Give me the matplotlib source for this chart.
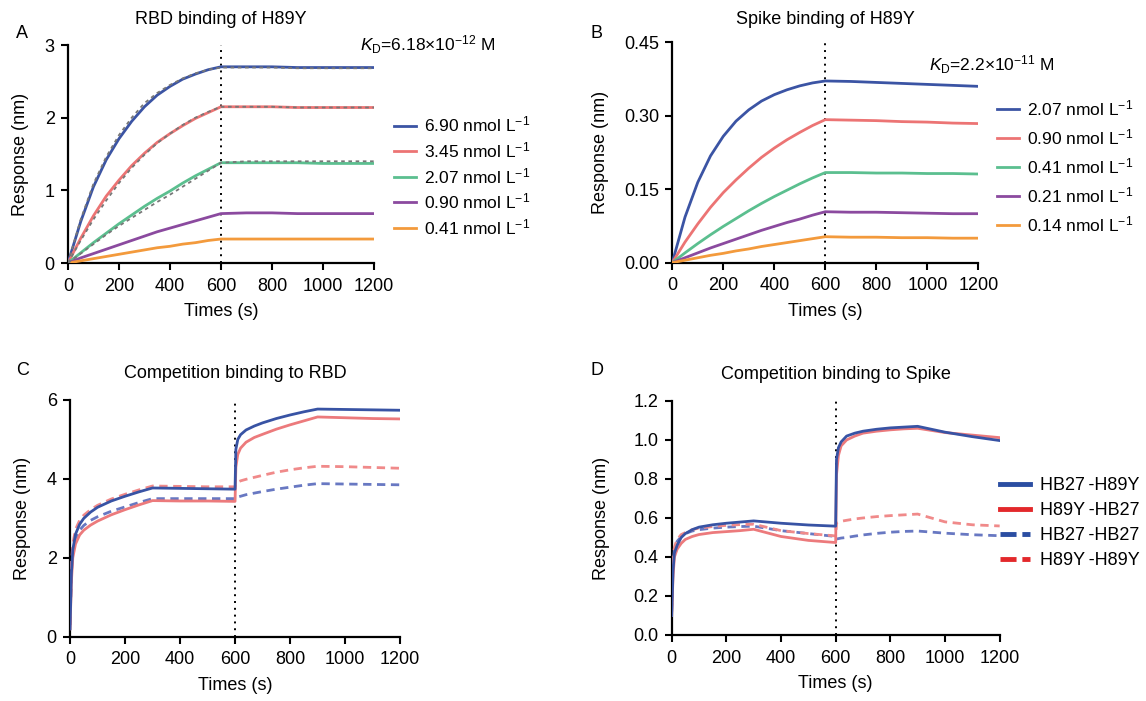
import matplotlib
matplotlib.use("Agg")
import matplotlib.pyplot as plt
from matplotlib.lines import Line2D

plt.rcParams['font.family'] = ['Liberation Sans', 'DejaVu Sans']
plt.rcParams['mathtext.fontset'] = 'custom'
plt.rcParams['mathtext.rm'] = 'Liberation Sans'
plt.rcParams['mathtext.it'] = 'Liberation Sans:italic'

# ---- panel A: RBD binding of H89Y ----
t_a = [0, 50, 100, 150, 200, 250, 300, 350, 400, 450, 500, 550, 600,
       700, 800, 900, 1000, 1100, 1200]
a_690 = [0, 0.57, 1.05, 1.42, 1.71, 1.95, 2.15, 2.31, 2.43, 2.53, 2.60, 2.66, 2.70,
         2.70, 2.70, 2.69, 2.69, 2.69, 2.69]
a_345 = [0, 0.34, 0.65, 0.92, 1.14, 1.34, 1.51, 1.66, 1.78, 1.89, 1.99, 2.07, 2.15,
         2.15, 2.15, 2.14, 2.14, 2.14, 2.14]
a_207 = [0, 0.14, 0.28, 0.41, 0.54, 0.66, 0.78, 0.89, 0.99, 1.10, 1.20, 1.29, 1.38,
         1.38, 1.38, 1.38, 1.37, 1.37, 1.37]
a_090 = [0, 0.07, 0.13, 0.19, 0.25, 0.31, 0.37, 0.43, 0.48, 0.53, 0.58, 0.63, 0.68,
         0.69, 0.69, 0.68, 0.68, 0.68, 0.68]
a_041 = [0, 0.03, 0.06, 0.09, 0.12, 0.15, 0.18, 0.21, 0.23, 0.26, 0.28, 0.31, 0.33,
         0.33, 0.33, 0.33, 0.33, 0.33, 0.33]
# fitted curves (grey dotted)
a_fit_690 = [0, 0.60, 1.09, 1.46, 1.76, 2.00, 2.20, 2.34, 2.45, 2.54, 2.61, 2.66, 2.69,
             2.69, 2.69, 2.68, 2.68, 2.68, 2.68]
a_fit_345 = [0, 0.31, 0.60, 0.86, 1.10, 1.31, 1.49, 1.65, 1.78, 1.90, 2.00, 2.08, 2.15,
             2.15, 2.15, 2.14, 2.14, 2.14, 2.14]
a_fit_207 = [0, 0.13, 0.26, 0.39, 0.51, 0.62, 0.73, 0.84, 0.94, 1.05, 1.16, 1.27, 1.38,
             1.40, 1.40, 1.40, 1.40, 1.40, 1.40]
a_labels = ['6.90', '3.45', '2.07', '0.90', '0.41']

# ---- panel B: Spike binding of H89Y ----
t_b = t_a
b_207 = [0, 0.093, 0.164, 0.218, 0.258, 0.289, 0.312, 0.330, 0.343, 0.353, 0.361, 0.367, 0.371,
         0.370, 0.368, 0.366, 0.364, 0.362, 0.360]
b_090 = [0, 0.042, 0.079, 0.113, 0.143, 0.169, 0.193, 0.215, 0.234, 0.251, 0.266, 0.280, 0.292,
         0.291, 0.290, 0.288, 0.287, 0.285, 0.284]
b_041 = [0, 0.020, 0.039, 0.057, 0.074, 0.090, 0.106, 0.121, 0.135, 0.148, 0.161, 0.173, 0.184,
         0.184, 0.183, 0.183, 0.182, 0.182, 0.181]
b_021 = [0, 0.010, 0.020, 0.030, 0.039, 0.048, 0.057, 0.066, 0.074, 0.082, 0.089, 0.097, 0.104,
         0.103, 0.103, 0.102, 0.101, 0.100, 0.100]
b_014 = [0, 0.005, 0.010, 0.015, 0.019, 0.024, 0.028, 0.033, 0.037, 0.041, 0.045, 0.049, 0.053,
         0.052, 0.052, 0.051, 0.051, 0.050, 0.050]
b_labels = ['2.07', '0.90', '0.41', '0.21', '0.14']

# ---- panels C / D: competition binding ----
t_cd = [0, 5, 10, 20, 35, 50, 75, 100, 150, 200, 250, 300, 400, 500, 600,
        603, 610, 620, 640, 670, 700, 750, 800, 850, 900, 1000, 1100, 1200]
c_hb27_h89y = [0.2, 1.6, 2.2, 2.6, 2.85, 3.0, 3.16, 3.28, 3.44, 3.56, 3.67, 3.77, 3.76, 3.75, 3.74,
               4.75, 5.0, 5.12, 5.24, 5.34, 5.42, 5.53, 5.62, 5.70, 5.77, 5.76, 5.75, 5.74]
c_h89y_hb27 = [0.2, 1.4, 2.0, 2.35, 2.58, 2.70, 2.83, 2.93, 3.09, 3.22, 3.34, 3.45, 3.44, 3.44, 3.43,
               4.3, 4.62, 4.78, 4.93, 5.05, 5.13, 5.26, 5.37, 5.47, 5.57, 5.55, 5.53, 5.52]
c_hb27_hb27 = [0.3, 1.6, 2.2, 2.5, 2.7, 2.82, 2.95, 3.04, 3.18, 3.29, 3.40, 3.50, 3.50, 3.50, 3.50,
               3.52, 3.54, 3.56, 3.60, 3.64, 3.68, 3.74, 3.79, 3.84, 3.88, 3.87, 3.86, 3.85]
c_h89y_h89y = [0.3, 1.8, 2.35, 2.72, 2.95, 3.08, 3.22, 3.33, 3.49, 3.61, 3.72, 3.82, 3.81, 3.80, 3.80,
               3.88, 3.92, 3.95, 3.99, 4.04, 4.09, 4.17, 4.23, 4.28, 4.32, 4.31, 4.29, 4.27]

d_hb27_h89y = [0.10, 0.33, 0.42, 0.46, 0.50, 0.52, 0.54, 0.553, 0.565, 0.573, 0.579, 0.585, 0.573, 0.564, 0.558,
               0.90, 0.96, 0.99, 1.02, 1.035, 1.045, 1.055, 1.062, 1.066, 1.07, 1.04, 1.017, 0.997]
d_h89y_hb27 = [0.10, 0.30, 0.40, 0.44, 0.47, 0.49, 0.505, 0.515, 0.525, 0.53, 0.535, 0.542, 0.505, 0.485, 0.474,
               0.82, 0.92, 0.97, 1.00, 1.02, 1.035, 1.045, 1.052, 1.057, 1.06, 1.038, 1.025, 1.012]
d_hb27_hb27 = [0.12, 0.36, 0.44, 0.48, 0.505, 0.52, 0.533, 0.54, 0.548, 0.553, 0.556, 0.558, 0.535, 0.52, 0.505,
               0.492, 0.494, 0.497, 0.50, 0.507, 0.513, 0.521, 0.527, 0.531, 0.533, 0.522, 0.514, 0.509]
d_h89y_h89y = [0.15, 0.38, 0.45, 0.49, 0.515, 0.525, 0.54, 0.548, 0.556, 0.562, 0.566, 0.568, 0.535, 0.52, 0.508,
               0.575, 0.58, 0.583, 0.588, 0.595, 0.60, 0.607, 0.612, 0.616, 0.62, 0.58, 0.565, 0.559]
cd_labels = ['HB27\u2009-H89Y', 'H89Y\u2009-HB27', 'HB27\u2009-HB27', 'H89Y\u2009-H89Y']

kin_colors = ['#3b54a4', '#ec7474', '#5bbf8f', '#8b4a9f', '#f39a3c']
blue, red = '#3853a4', '#ec7a7c'
blue_l, red_l = '#6878c2', '#f08a8a'

fs = 13
fs_leg = 12.5

fig = plt.figure(figsize=(11.46, 7.01), dpi=100)
axA = fig.add_axes([0.0593, 0.6248, 0.267, 0.311])
axB = fig.add_axes([0.5866, 0.6253, 0.2671, 0.3144])
axC = fig.add_axes([0.0611, 0.0917, 0.288, 0.3377])
axD = fig.add_axes([0.5861, 0.0942, 0.2862, 0.3338])


def style(ax, ylim, yticks, yfmt, ylpad=11):
    ax.set_xlim(0, 1200)
    ax.set_ylim(*ylim)
    ax.set_xticks(range(0, 1201, 200))
    ax.set_yticks(yticks)
    ax.set_yticklabels([yfmt.format(v) for v in yticks])
    for s in ['top', 'right']:
        ax.spines[s].set_visible(False)
    for s in ['left', 'bottom']:
        ax.spines[s].set_linewidth(1.6)
    ax.tick_params(direction='out', length=5, width=1.5, labelsize=fs, pad=5.5)
    ax.tick_params(axis='y', pad=4.5)
    ax.set_xlabel('Times (s)', fontsize=fs, labelpad=6)
    ax.set_ylabel('Response (nm)', fontsize=fs, labelpad=ylpad)
    ax.axvline(600, color='black', ls=(0, (1, 2.5)), lw=1.4, zorder=1)


# A
for y, c, lab in zip([a_690, a_345, a_207, a_090, a_041], kin_colors, a_labels):
    axA.plot(t_a, y, color=c, lw=2, label=lab + r' nmol L$^{-1}$', zorder=3)
for y in [a_fit_690, a_fit_345, a_fit_207]:
    axA.plot(t_a, y, color='#777777', lw=1.3, ls=(0, (2, 2)), zorder=4)
style(axA, (0, 3), [0, 1, 2, 3], '{:g}')
axA.set_title('RBD binding of H89Y', fontsize=fs, pad=15)
axA.text(0.955, 1.0, r'$K_\mathrm{D}$=6.18×10$^{-12}$ M', transform=axA.transAxes,
         fontsize=fs_leg, ha='left', va='center')
axA.legend(loc='upper left', bbox_to_anchor=(1.065, 0.68), frameon=False, fontsize=fs_leg,
           handlelength=1.3, handletextpad=0.45, labelspacing=0.33, borderaxespad=0, borderpad=0)

# B
for y, c, lab in zip([b_207, b_090, b_041, b_021, b_014], kin_colors, b_labels):
    axB.plot(t_b, y, color=c, lw=2, label=lab + r' nmol L$^{-1}$', zorder=3)
style(axB, (0, 0.45), [0, 0.15, 0.30, 0.45], '{:.2f}')
axB.set_title('Spike binding of H89Y', fontsize=fs, pad=13)
axB.text(0.84, 0.90, r'$K_\mathrm{D}$=2.2×10$^{-11}$ M', transform=axB.transAxes,
         fontsize=fs_leg, ha='left', va='center')
axB.legend(loc='upper left', bbox_to_anchor=(1.06, 0.745), frameon=False, fontsize=fs_leg,
           handlelength=1.3, handletextpad=0.45, labelspacing=0.52, borderaxespad=0, borderpad=0)

# C
axC.plot(t_cd, c_hb27_hb27, color=blue_l, lw=2, ls=(0, (3, 2)), zorder=3)
axC.plot(t_cd, c_h89y_h89y, color=red_l, lw=2, ls=(0, (3, 2)), zorder=3)
axC.plot(t_cd, c_h89y_hb27, color=red, lw=2, zorder=3)
axC.plot(t_cd, c_hb27_h89y, color=blue, lw=2, zorder=3)
style(axC, (0, 6), [0, 2, 4, 6], '{:g}')
axC.set_title('Competition binding to RBD', fontsize=fs, pad=16)

# D
axD.plot(t_cd, d_hb27_hb27, color=blue_l, lw=2, ls=(0, (3, 2)), zorder=3)
axD.plot(t_cd, d_h89y_h89y, color=red_l, lw=2, ls=(0, (3, 2)), zorder=3)
axD.plot(t_cd, d_h89y_hb27, color=red, lw=2, zorder=3)
axD.plot(t_cd, d_hb27_h89y, color=blue, lw=2, zorder=3)
style(axD, (0, 1.2), [0, 0.2, 0.4, 0.6, 0.8, 1.0, 1.2], '{:.1f}', ylpad=17)
axD.set_title('Competition binding to Spike', fontsize=fs, pad=16)

handles = [Line2D([], [], color='#2b4ea2', lw=3.5),
           Line2D([], [], color='#e3282b', lw=3.5),
           Line2D([], [], color='#2b4ea2', lw=3.5, ls=(0, (3.3, 1.2))),
           Line2D([], [], color='#e3282b', lw=3.5, ls=(0, (3.3, 1.2)))]
axD.legend(handles, cd_labels, loc='upper left', bbox_to_anchor=(1.0, 0.675), frameon=False,
           fontsize=fs, handlelength=1.7, handletextpad=0.55, labelspacing=0.45,
           borderaxespad=0, borderpad=0)

for lab, x, y in [('A', 0.014, 0.952), ('B', 0.515, 0.952), ('C', 0.014, 0.472), ('D', 0.515, 0.472)]:
    fig.text(x, y, lab, fontsize=fs, ha='left', va='center')

fig.savefig('out.png', dpi=100)
